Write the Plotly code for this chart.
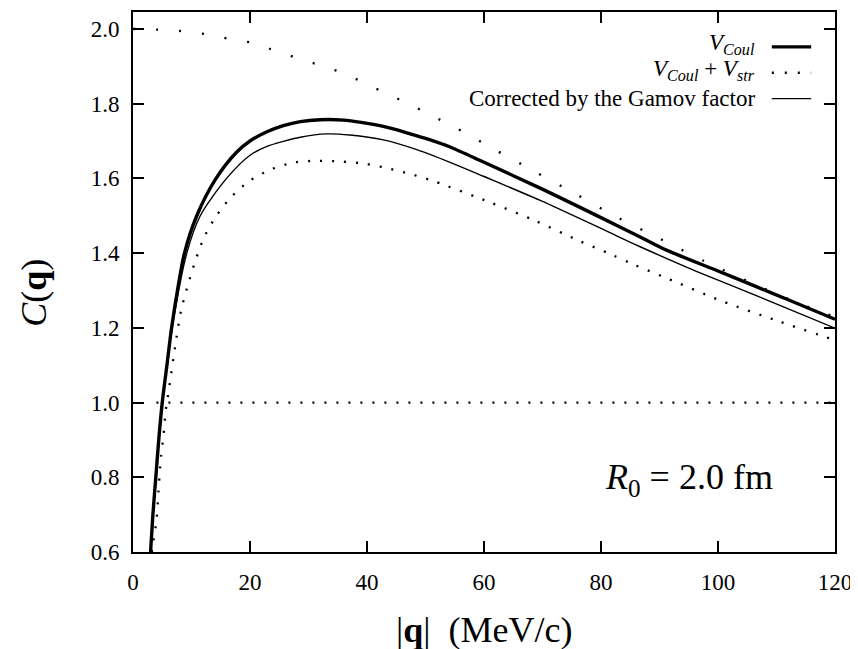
import plotly.graph_objects as go

# V_Coul (thick solid)
q_coul = [3.0, 3.4, 3.9, 4.4, 5.0, 5.8, 6.6, 7.6, 8.8, 10.9, 14.2, 17.7, 20.0, 22.8, 25.7, 28.6, 32.0, 36.0,
          39.0, 42.8, 46.8, 50.8, 54.2, 60.0, 69.6, 80.0, 86.7, 91.2, 100.0, 105.5, 112.0, 120.0]
c_coul = [0.60, 0.70, 0.80, 0.90, 1.00, 1.10, 1.20, 1.30, 1.40, 1.50, 1.60, 1.670, 1.700, 1.724, 1.741, 1.752, 1.757, 1.756,
          1.750, 1.739, 1.722, 1.703, 1.684, 1.643, 1.574, 1.495, 1.443, 1.408, 1.352, 1.317, 1.275, 1.223]

# V_Coul + V_str (dotted)
q_str = [3.2, 3.5, 4.05, 4.35, 4.75, 5.2, 5.6, 5.9, 7.4, 8.2, 9.3, 10.8, 12.3, 14.4, 16.9, 20.0, 23.6,
         27.6, 31.7, 35.6, 39.7, 43.8, 47.8, 51.5, 61.0, 68.7, 76.1, 81.8, 85.5, 91.2, 100.6, 110.1, 120.0]
c_str = [0.60, 0.63, 0.69, 0.76, 0.85, 0.91, 0.98, 1.01, 1.17, 1.245, 1.31, 1.386, 1.447, 1.503, 1.552, 1.594, 1.624,
         1.643, 1.647, 1.645, 1.639, 1.626, 1.610, 1.592, 1.536, 1.487, 1.434, 1.396, 1.370, 1.333, 1.272, 1.219, 1.167]

# Corrected by the Gamov factor (thin solid)
q_gam = [3.0, 3.9, 5.0, 6.7, 9.2, 11.5, 16.0, 20.0, 22.8, 25.7, 28.6, 33.0, 37.1, 42.8, 48.5, 54.2, 60.0,
         69.6, 80.0, 86.7, 95.0, 105.5, 120.0]
c_gam = [0.60, 0.80, 1.00, 1.20, 1.40, 1.50, 1.60, 1.662, 1.685, 1.699, 1.710, 1.719, 1.716, 1.703, 1.677, 1.643, 1.605,
         1.541, 1.466, 1.417, 1.360, 1.293, 1.199]

# upper dotted curve (no Coulomb)
q_up = [0.0, 4.4, 8.4, 12.5, 16.6, 20.6, 24.4, 28.3, 32.3, 36.2, 39.8, 43.5, 47.2, 50.8, 54.5, 61.6,
        68.7, 75.8, 83.0, 90.0, 97.7, 105.1, 112.5, 120.0]
c_up = [2.0, 1.998, 1.994, 1.986, 1.973, 1.962, 1.941, 1.921, 1.901, 1.880, 1.853, 1.826, 1.799, 1.770, 1.741, 1.679,
        1.618, 1.557, 1.494, 1.439, 1.378, 1.325, 1.274, 1.229]

# reference line C = 1
q_one = [4.0, 120.0]
c_one = [1.0, 1.0]

x_ticks = [0, 20, 40, 60, 80, 100, 120]
y_ticks = [0.6, 0.8, 1.0, 1.2, 1.4, 1.6, 1.8, 2.0]
y_ticktext = ["0.6", "0.8", "1.0", "1.2", "1.4", "1.6", "1.8", "2.0"]

FONT = "Liberation Serif"

fig = go.Figure()
fig.add_trace(go.Scatter(x=q_one, y=c_one, mode="lines",
                         line=dict(color="black", width=2.2, dash="2px,10px"),
                         showlegend=False, hoverinfo="skip"))
fig.add_trace(go.Scatter(x=q_up, y=c_up, mode="lines", line_shape="spline",
                         line=dict(color="black", width=2.3, dash="2px,21px", smoothing=0.8),
                         showlegend=False, hoverinfo="skip"))
fig.add_trace(go.Scatter(x=q_str, y=c_str, mode="lines", line_shape="spline",
                         line=dict(color="black", width=2.3, dash="2px,10px", smoothing=0.8),
                         showlegend=False, hoverinfo="skip"))
fig.add_trace(go.Scatter(x=q_gam, y=c_gam, mode="lines", line_shape="spline",
                         line=dict(color="black", width=1.4, smoothing=0.8),
                         showlegend=False, hoverinfo="skip"))
fig.add_trace(go.Scatter(x=q_coul, y=c_coul, mode="lines", line_shape="spline",
                         line=dict(color="black", width=3.4, smoothing=0.8),
                         showlegend=False, hoverinfo="skip"))

axis_common = dict(showline=True, linecolor="black", linewidth=2, mirror="ticks",
                   ticks="inside", ticklen=11, tickwidth=2, tickcolor="black",
                   showgrid=False, zeroline=False,
                   tickfont=dict(family=FONT, size=23, color="black"))

fig.update_xaxes(range=[0, 120], tickvals=x_ticks, ticktext=[str(v) for v in x_ticks],
                 ticklabelstandoff=8, **axis_common)
fig.update_yaxes(range=[0.6, 2.0453], tickvals=y_ticks, ticktext=y_ticktext,
                 ticklabelstandoff=7, **axis_common)

ann = []
ann.append(dict(text="|<b>q</b>|  (MeV/c)", xref="paper", yref="paper", x=0.5, y=-0.144,
                xanchor="center", yanchor="middle", showarrow=False,
                font=dict(family=FONT, size=36, color="black")))
ann.append(dict(text="<i>C</i>(<b>q</b>)", xref="paper", yref="paper", x=-0.141, y=0.48,
                xanchor="center", yanchor="middle", textangle=-90, showarrow=False,
                font=dict(family=FONT, size=36, color="black")))
ann.append(dict(text="<i>R</i><sub>0</sub> = 2.0 fm", xref="paper", yref="paper", x=0.9145, y=0.135,
                xanchor="right", yanchor="middle", showarrow=False,
                font=dict(family=FONT, size=36, color="black")))

legend_items = [
    ("<i>V</i><sub><i>Coul</i></sub>", dict(color="black", width=3.4), 0.0055),
    ("<i>V</i><sub><i>Coul</i></sub> + <i>V</i><sub><i>str</i></sub>",
     dict(color="black", width=2.3, dash="2px,11px"), 0.0055),
    ("Corrected by the Gamov factor", dict(color="black", width=1.4), 0.0),
]
rows = [0.9354, 0.8875, 0.8395]
shapes = []
for (txt, ln, dy), yy in zip(legend_items, rows):
    ann.append(dict(text=txt, xref="paper", yref="paper", x=0.889, y=yy + dy,
                    xanchor="right", yanchor="middle", showarrow=False,
                    font=dict(family=FONT, size=23, color="black")))
    shapes.append(dict(type="line", xref="paper", yref="paper", x0=0.910, x1=0.966,
                       y0=yy, y1=yy, line=ln))

# the page body adds an 8px offset; the figure is sized so the plot lands where the reference has it
fig.update_layout(width=850, height=641, margin=dict(l=125, r=23, t=2, b=97),
                  paper_bgcolor="white", plot_bgcolor="white",
                  annotations=ann, shapes=shapes, showlegend=False)

fig.write_html("out.html")
